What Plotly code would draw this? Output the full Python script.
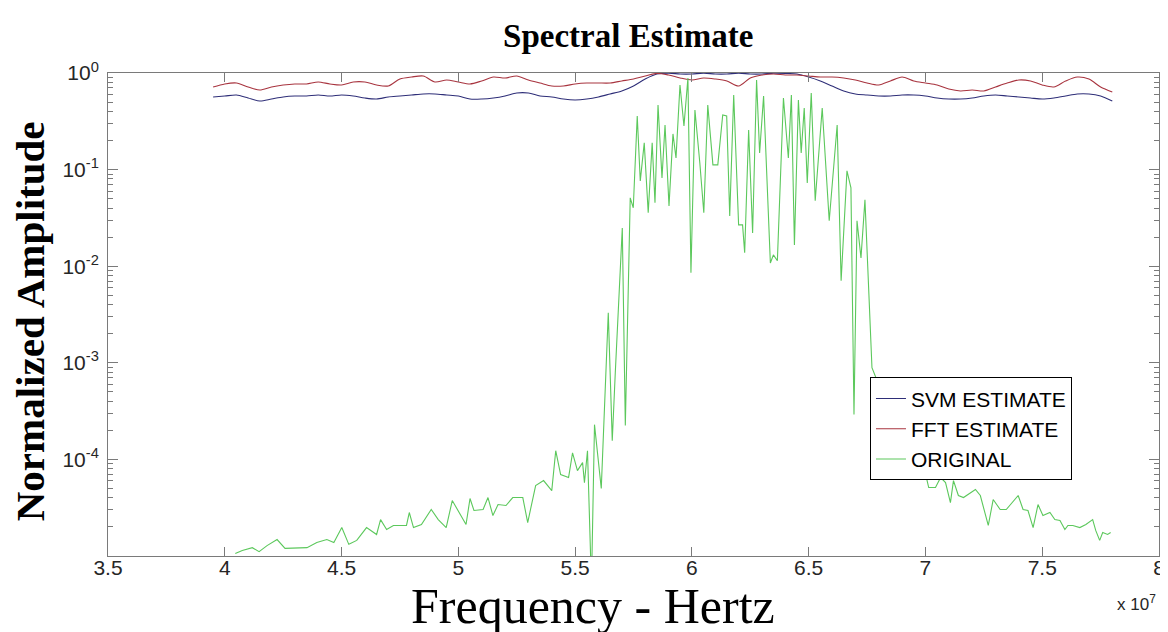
import plotly.graph_objects as go

# ---------- data (frequency in units of 1e7 Hz) ----------
EST_FREQ = [3.95, 4.00, 4.05, 4.10, 4.15, 4.20, 4.25, 4.30, 4.35, 4.40,
            4.45, 4.50, 4.55, 4.60, 4.65, 4.70, 4.75, 4.80, 4.85, 4.90,
            4.95, 5.00, 5.05, 5.10, 5.15, 5.20, 5.25, 5.30, 5.35, 5.40,
            5.45, 5.50, 5.55, 5.60, 5.65, 5.70, 5.75, 5.80, 5.85, 5.90,
            5.95, 6.00, 6.05, 6.10, 6.15, 6.20, 6.25, 6.30, 6.35, 6.40,
            6.45, 6.50, 6.55, 6.60, 6.65, 6.70, 6.75, 6.80, 6.85, 6.90,
            6.95, 7.00, 7.05, 7.10, 7.15, 7.20, 7.25, 7.30, 7.35, 7.40,
            7.45, 7.50, 7.55, 7.60, 7.65, 7.70, 7.75, 7.80]

SVM_EST = [0.565, 0.578, 0.592, 0.551, 0.513, 0.538, 0.565, 0.578, 0.578, 0.592,
           0.578, 0.592, 0.578, 0.551, 0.538, 0.565, 0.578, 0.592, 0.607, 0.607,
           0.592, 0.578, 0.538, 0.538, 0.551, 0.578, 0.621, 0.621, 0.578, 0.565,
           0.538, 0.526, 0.538, 0.565, 0.607, 0.652, 0.734, 0.867, 0.976, 0.995,
           0.976, 0.976, 0.995, 0.976, 0.976, 0.995, 0.976, 0.976, 0.995, 0.990,
           0.976, 0.909, 0.827, 0.734, 0.652, 0.607, 0.592, 0.578, 0.578, 0.592,
           0.592, 0.578, 0.551, 0.538, 0.538, 0.551, 0.578, 0.592, 0.578, 0.565,
           0.551, 0.538, 0.551, 0.578, 0.607, 0.607, 0.578, 0.513]

FFT_EST = [0.717, 0.770, 0.788, 0.717, 0.667, 0.717, 0.751, 0.770, 0.770, 0.807,
           0.770, 0.751, 0.807, 0.807, 0.751, 0.734, 0.867, 0.909, 0.931, 0.807,
           0.847, 0.807, 0.770, 0.827, 0.909, 0.888, 0.931, 0.847, 0.788, 0.734,
           0.734, 0.770, 0.788, 0.788, 0.788, 0.827, 0.867, 0.931, 0.990, 0.953,
           0.888, 0.847, 0.888, 0.867, 0.827, 0.734, 0.888, 0.953, 0.976, 0.953,
           0.953, 0.931, 0.909, 0.909, 0.888, 0.847, 0.788, 0.751, 0.827, 0.909,
           0.827, 0.788, 0.751, 0.683, 0.652, 0.667, 0.652, 0.717, 0.788, 0.847,
           0.827, 0.751, 0.717, 0.827, 0.909, 0.867, 0.717, 0.636]

ORIG_FREQ = [4.045, 4.075, 4.118, 4.147, 4.181, 4.224, 4.258, 4.301, 4.352, 4.394,
             4.437, 4.467, 4.501, 4.531, 4.565, 4.607, 4.650, 4.667, 4.693, 4.722,
             4.778, 4.790, 4.808, 4.842, 4.884, 4.914, 4.948, 4.974, 4.999, 5.033,
             5.050, 5.067, 5.106, 5.127, 5.148, 5.170, 5.204, 5.233, 5.276, 5.297,
             5.331, 5.365, 5.400, 5.417, 5.438, 5.472, 5.489, 5.510, 5.532, 5.540,
             5.553, 5.570, 5.583, 5.612, 5.642, 5.659, 5.672, 5.702, 5.715, 5.736,
             5.749, 5.766, 5.779, 5.796, 5.813, 5.830, 5.842, 5.855, 5.872, 5.885,
             5.902, 5.919, 5.932, 5.949, 5.966, 5.983, 5.996, 6.013, 6.034, 6.051,
             6.068, 6.090, 6.111, 6.132, 6.149, 6.162, 6.179, 6.200, 6.217, 6.226,
             6.243, 6.260, 6.277, 6.290, 6.307, 6.336, 6.349, 6.366, 6.392, 6.413,
             6.426, 6.439, 6.456, 6.468, 6.481, 6.494, 6.511, 6.528, 6.558, 6.588,
             6.622, 6.639, 6.664, 6.681, 6.694, 6.707, 6.724, 6.741, 6.758, 6.771,
             6.788, 6.801, 6.822, 6.848, 6.877, 6.907, 6.937, 6.967, 7.001, 7.014,
             7.043, 7.065, 7.086, 7.107, 7.120, 7.141, 7.163, 7.192, 7.214, 7.235,
             7.269, 7.290, 7.320, 7.346, 7.376, 7.397, 7.418, 7.439, 7.461, 7.482,
             7.503, 7.533, 7.554, 7.576, 7.597, 7.610, 7.631, 7.661, 7.687, 7.716,
             7.729, 7.746, 7.759, 7.780, 7.793]

ORIG_AMP = [1.06e-5, 1.14e-5, 1.22e-5, 1.11e-5, 1.28e-5, 1.48e-5, 1.20e-5, 1.20e-5, 1.22e-5, 1.38e-5,
            1.48e-5, 1.38e-5, 1.97e-5, 1.32e-5, 1.45e-5, 1.97e-5, 1.67e-5, 2.38e-5, 1.88e-5, 2.07e-5,
            2.07e-5, 2.82e-5, 1.97e-5, 2.12e-5, 3.03e-5, 2.38e-5, 1.97e-5, 3.75e-5, 2.96e-5, 2.12e-5,
            3.94e-5, 2.96e-5, 3.03e-5, 4.03e-5, 2.62e-5, 3.41e-5, 3.33e-5, 4.03e-5, 4.03e-5, 2.22e-5,
            5.36e-5, 6.04e-5, 4.75e-5, 1.23e-4, 6.97e-5, 6.49e-5, 1.17e-4, 7.66e-5, 9.27e-5, 5.75e-5,
            1.23e-4, 5.0e-6, 2.29e-4, 4.99e-5, 3.30e-3, 1.56e-4, 7.90e-4, 2.49e-2, 2.24e-4, 5.10e-2,
            4.02e-2, 0.359, 7.64e-2, 0.189, 3.57e-2, 0.189, 4.53e-2, 0.467, 8.21e-2, 0.290,
            4.21e-2, 0.234, 0.132, 0.752, 0.283, 0.888, 8.55e-3, 0.414, 0.117, 3.57e-2,
            0.467, 0.112, 0.112, 0.368, 0.359, 3.32e-2, 0.592, 2.68e-2, 2.68e-2, 1.38e-2,
            0.257, 2.21e-2, 0.847, 0.149, 0.578, 1.08e-2, 1.31e-2, 1.14e-2, 0.550, 0.132,
            0.592, 1.66e-2, 0.526, 0.149, 0.435, 7.29e-2, 0.621, 4.75e-2, 0.435, 2.95e-2,
            0.290, 7.06e-3, 9.70e-2, 6.47e-2, 2.91e-4, 2.95e-2, 1.22e-2, 4.86e-2, 5.06e-3, 8.89e-4,
            7.01e-4, 6.53e-4, 4.36e-4, 1.68e-4, 1.17e-4, 1.32e-4, 8.63e-5, 9.95e-5, 6.97e-5, 5.11e-5,
            5.11e-5, 6.49e-5, 5.75e-5, 3.57e-5, 6.04e-5, 4.23e-5, 4.03e-5, 4.54e-5, 4.88e-5, 4.23e-5,
            2.07e-5, 3.84e-5, 3.03e-5, 3.03e-5, 3.75e-5, 4.23e-5, 3.03e-5, 2.96e-5, 1.97e-5, 3.41e-5,
            2.62e-5, 2.82e-5, 2.38e-5, 2.33e-5, 1.88e-5, 2.07e-5, 2.07e-5, 1.97e-5, 2.12e-5, 2.38e-5,
            1.84e-5, 1.45e-5, 1.75e-5, 1.67e-5, 1.75e-5]

X_TICKS = [3.5, 4, 4.5, 5, 5.5, 6, 6.5, 7, 7.5, 8]
Y_TICKS = [1e-4, 1e-3, 1e-2, 1e-1, 1]
Y_TICK_TEXT = ["10<sup>-4</sup>", "10<sup>-3</sup>", "10<sup>-2</sup>",
               "10<sup>-1</sup>", "10<sup>0</sup>"]
Y_MINOR = [m * 10.0 ** e for e in range(-5, 0) for m in range(2, 10)]

AXIS_GRAY = "#7a7a7a"
TEXT_DARK = "#262626"

fig = go.Figure()

fig.add_trace(go.Scatter(x=EST_FREQ, y=SVM_EST, name="SVM ESTIMATE", mode="lines",
                         line=dict(color="#2e2e78", width=1.1, shape="spline", smoothing=0.8)))
fig.add_trace(go.Scatter(x=EST_FREQ, y=FFT_EST, name="FFT ESTIMATE", mode="lines",
                         line=dict(color="#a8343f", width=1.1, shape="spline", smoothing=0.8)))
fig.add_trace(go.Scatter(x=ORIG_FREQ, y=ORIG_AMP, name="ORIGINAL", mode="lines",
                         line=dict(color="#5cc85c", width=1.1)))

fig.update_layout(
    width=1168, height=632,
    margin=dict(l=100, r=11, t=65, b=84),
    paper_bgcolor="white", plot_bgcolor="white",
    title=dict(text="Spectral Estimate", x=0.531, xanchor="center",
               y=1 - 27 / 632, yanchor="middle", yref="container",
               font=dict(family="Liberation Serif", size=33, color="black", weight="bold")),
    showlegend=True,
    legend=dict(x=0.725, y=0.37, xanchor="left", yanchor="top",
                bgcolor="white", bordercolor="black", borderwidth=1,
                font=dict(family="Liberation Sans", size=21, color="black"),
                tracegroupgap=0, itemwidth=30),
)

fig.update_xaxes(
    range=[3.5, 8], tickvals=X_TICKS, ticktext=[f"{v:g}" for v in X_TICKS],
    showline=True, linecolor=AXIS_GRAY, linewidth=1, mirror="ticks",
    ticks="inside", ticklen=9, tickcolor=AXIS_GRAY,
    showgrid=False, zeroline=False, ticklabelstandoff=-7,
    tickfont=dict(family="Liberation Sans", size=21, color=TEXT_DARK),
)
fig.update_yaxes(
    type="log", range=[-5, 0], tickvals=Y_TICKS, ticktext=Y_TICK_TEXT,
    showline=True, linecolor=AXIS_GRAY, linewidth=1, mirror="ticks",
    ticks="inside", ticklen=10, tickcolor=AXIS_GRAY,
    minor=dict(tickmode="array", tickvals=Y_MINOR, ticks="inside", ticklen=5,
               tickcolor=AXIS_GRAY, showgrid=False),
    showgrid=False, zeroline=False, ticklabelstandoff=4,
    tickfont=dict(family="Liberation Sans", size=21, color=TEXT_DARK),
)

# axis titles and exponent note
fig.add_annotation(text="Normalized Amplitude", xref="paper", yref="paper",
                   x=-0.074, y=0.4865, xanchor="center", yanchor="middle",
                   textangle=-90, showarrow=False,
                   font=dict(family="Liberation Serif", size=41, color="black", weight="bold"))
fig.add_annotation(text="Frequency - Hertz", xref="paper", yref="paper",
                   x=0.4617, y=-0.104, xanchor="center", yanchor="middle",
                   showarrow=False,
                   font=dict(family="Liberation Serif", size=50, color="black"))
fig.add_annotation(text="x 10<sup>7</sup>", xref="paper", yref="paper",
                   x=0.979, y=-0.097, xanchor="center", yanchor="middle",
                   showarrow=False,
                   font=dict(family="Liberation Sans", size=17, color=TEXT_DARK))

fig.write_html("out.html")
